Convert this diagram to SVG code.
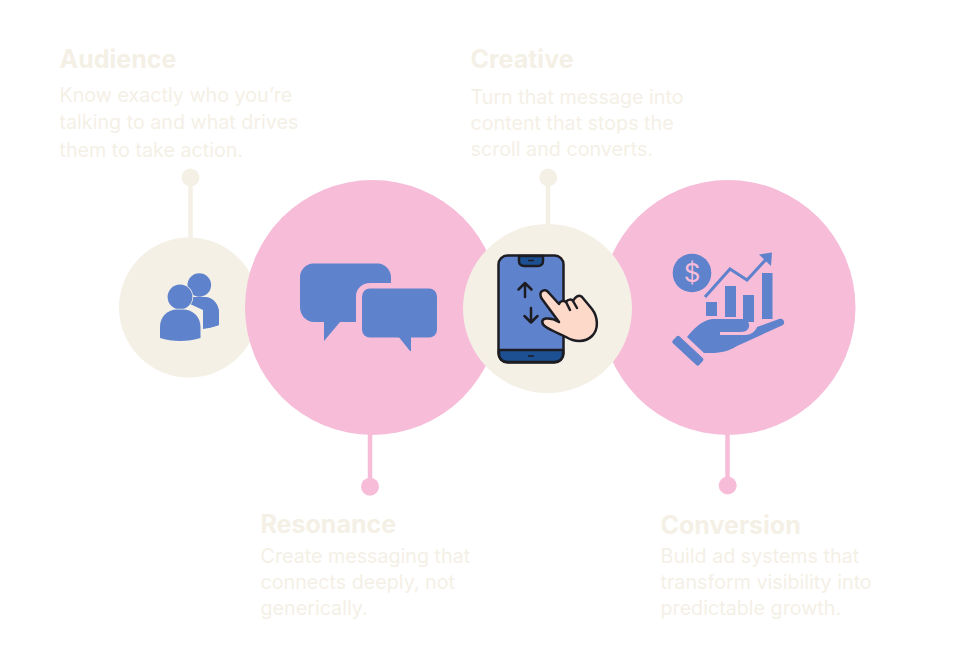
<svg xmlns="http://www.w3.org/2000/svg" width="960" height="654" viewBox="0 0 960 654">
<style>
.h{font-family:Inter,"Liberation Sans",sans-serif;font-weight:700;font-size:25px;fill:#f4f0e6}
.b{font-family:Inter,"Liberation Sans",sans-serif;font-weight:400;font-size:19.700px;fill:#f4f0e6}
.ic{fill:#5f82cd}
.bg{fill:#f4f0e6}
.pk{fill:#f6bcd8}
.o{stroke:#1c1c22;stroke-width:2.500;stroke-linecap:round;stroke-linejoin:round}
</style>
<rect width="960" height="654" fill="#ffffff"/>
<g id="connectors" fill="none" stroke-width="4.500">
<path d="M190.500 177V240" stroke="#f4f0e6"/>
<path d="M548 177V228" stroke="#f4f0e6"/>
<path d="M370 432V487" stroke="#f6bcd8"/>
<path d="M727.500 432V485" stroke="#f6bcd8"/>
<circle cx="190.500" cy="177.500" r="9" fill="#f4f0e6" stroke="none"/>
<circle cx="548.300" cy="177.500" r="9" fill="#f4f0e6" stroke="none"/>
<circle cx="370" cy="486.700" r="9" fill="#f6bcd8" stroke="none"/>
<circle cx="727.700" cy="485.500" r="9" fill="#f6bcd8" stroke="none"/>
</g>
<g id="audience">
<circle class="bg" cx="189" cy="307.500" r="70"/>
<path class="ic" d="M192 297H205C213 297 219 304 219 313V325C213 327 209 328 203 329V300H192Z"/>
<path class="ic" d="M190 298H206C213 298 219 305 219 313V325C214 327 209 328 203 328V310L190 304Z"/>
<circle class="ic" cx="199.300" cy="285" r="11.800"/>
<g stroke="#f4f0e6" stroke-width="1.500" paint-order="stroke">
<circle class="ic" cx="180" cy="297" r="12.400"/>
<path class="ic" d="M160 338V327C160 316 168 309.500 177 309.500H183C193 309.500 200.500 317 200.500 327V338C188 342 172 342 160 338Z"/>
</g>
<text class="h" x="59.500" y="67.500">Audience</text>
<text class="b" x="59.500" y="102">Know exactly who you’re</text>
<text class="b" x="59.500" y="129">talking to and what drives</text>
<text class="b" x="59.500" y="156.500">them to take action.</text>
</g>
<g id="resonance">
<circle class="pk" cx="372.500" cy="307.500" r="127.500"/>
<path class="ic" d="M313 263.500H378C385 263.500 391 270 391 277V283H370C362 283 356 289 356 296V322H340L324 341V322H314C306 322 300 315 300 307V277C300 270 306 263.500 313 263.500Z"/>
<rect class="ic" x="362" y="288.500" width="75" height="49" rx="8"/>
<path class="ic" d="M398 336H411V351H410Z"/>
<text class="h" x="260.500" y="532.700">Resonance</text>
<text class="b" x="260.500" y="562.700">Create messaging that</text>
<text class="b" x="260.500" y="589">connects deeply, not</text>
<text class="b" x="260.500" y="614.500">generically.</text>
</g>
<g id="conversion">
<circle class="pk" cx="728" cy="307.500" r="127.500"/>
<circle class="ic" cx="692" cy="273" r="19.300"/>
<text x="692" y="282" text-anchor="middle" font-family="Inter,'Liberation Sans',sans-serif" font-size="26" font-weight="400" fill="#f6bcd8">$</text>
<path d="M705 297L730 269L747 280L770 255" fill="none" stroke="#5f82cd" stroke-width="3"/>
<path class="ic" d="M759 254.500L772 252.500L771 266Z"/>
<rect class="ic" x="706" y="302" width="11" height="14"/>
<rect class="ic" x="725" y="286" width="11" height="31"/>
<rect class="ic" x="743" y="295" width="11" height="27"/>
<rect class="ic" x="762" y="273" width="10.500" height="46"/>
<path class="ic" d="M687 337C693 330 700 321 712 319H742C748 319 751 325 748 329C746 332 742 332 738 332H720V335H745C752 335 756 330 757 327L779 319C783 318 786 322 783 325L737 346C730 350 725 352 715 353H704Z"/>
<rect class="ic" x="670" y="346" width="36" height="9.500" rx="2" transform="rotate(43 688 350.500)"/>
<text class="h" x="660.500" y="533.700">Conversion</text>
<text class="b" x="660.500" y="562.700">Build ad systems that</text>
<text class="b" x="660.500" y="589">transform visibility into</text>
<text class="b" x="660.500" y="614.500">predictable growth.</text>
</g>
<g id="creative">
<circle class="bg" cx="547.500" cy="308.500" r="84.500"/>
<rect x="498.500" y="255.500" width="65" height="107" rx="9" fill="#5f82cd" class="o"/>
<path d="M499 350H563V354C563 359 559 362 554 362H508C503 362 499 359 499 354Z" fill="#1d5093" class="o"/>
<path d="M519 256H543V261C543 264 541 266 538 266H524C521 266 519 264 519 261Z" fill="#1d5093" class="o"/>
<path d="M528 260.500H534M528 356H534" stroke="#1c1c22" stroke-width="1.500" fill="none"/>
<path d="M525 297V283M518.500 289.500L525 283L531.500 289.500M531 308V322.500M524.500 316L531 322.500L537.500 316" fill="none" class="o"/>
<path d="M541 292C544 289 547 290 549 293L559 304C560 301 564 300 566 302C568 299 572 299 573 301C575 297 579 294 582 297L592 309C598 317 599 329 592 336C585 343 574 342 566 337C558 333 552 331 546 327C541 324 541 319 546 318.500C551 318 556 320 559 322L542 299C540 296 540 294 541 292Z" fill="#fcd9c9" class="o"/>
<path d="M566 302L570 310M573 301L577 308" fill="none" class="o"/>
<text class="h" x="470.500" y="67.500">Creative</text>
<text class="b" x="470.500" y="103.500">Turn that message into</text>
<text class="b" x="470.500" y="130">content that stops the</text>
<text class="b" x="470.500" y="156">scroll and converts.</text>
</g>
</svg>
